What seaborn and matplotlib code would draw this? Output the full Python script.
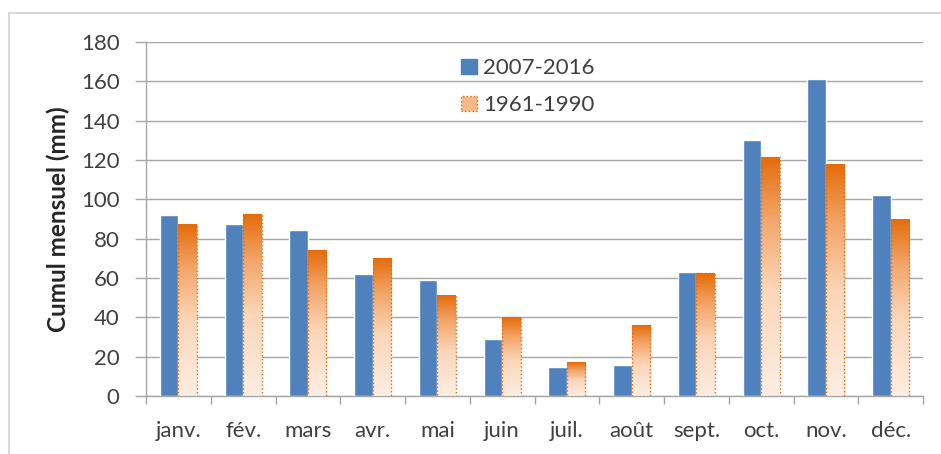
import numpy as np
import pandas as pd
import matplotlib.pyplot as plt
import seaborn as sns
from matplotlib.colors import LinearSegmentedColormap
from matplotlib.patches import Patch, Rectangle

months = ['janv.', 'fév.', 'mars', 'avr.', 'mai', 'juin',
          'juil.', 'août', 'sept.', 'oct.', 'nov.', 'déc.']
recent = [92, 87.5, 84.5, 62, 59, 29, 14.5, 16, 63, 130, 161, 102]
normal = [87, 92.5, 74, 70, 51, 40, 17, 36, 62.5, 121.5, 117.5, 89.5]
periods = ['2007-2016', '1961-1990']

df = pd.DataFrame({
    'mois': months * 2,
    'cumul': recent + normal,
    'periode': [periods[0]] * 12 + [periods[1]] * 12,
})

blue = '#4F81BD'
orange = '#E46C0A'
grey = '#A6A6A6'
txt = '#404040'

sns.set_theme(style='white')
plt.rcParams['font.family'] = ['Lato', 'DejaVu Sans']

fig = plt.figure(figsize=(9.41, 4.54), dpi=100)
fig.patches.append(Rectangle((9 / 941, -0.05), 1.0, 1 - 13 / 454 + 0.05,
                             transform=fig.transFigure, fill=False,
                             edgecolor='#D9D9D9', lw=1.5))
ax = fig.add_axes([146 / 941, 1 - 396 / 454, (923 - 146) / 941, (396 - 42) / 454])

sns.barplot(data=df, x='mois', y='cumul', hue='periode', palette=[blue, orange],
            width=0.57, saturation=1, ax=ax, legend=False, zorder=3)

# gradient fill for the 1961-1990 bars
cmap = LinearSegmentedColormap.from_list(
    'peach', [(0, '#FDEEE3'), (0.45, '#FBD6B8'), (0.75, '#F3A468'), (1, orange)])
grad = np.linspace(0, 1, 256).reshape(-1, 1)
for bar in ax.containers[1]:
    x0, w, h = bar.get_x(), bar.get_width(), bar.get_height()
    bar.set_facecolor('none')
    bar.set_edgecolor(orange)
    bar.set_linestyle(':')
    bar.set_linewidth(1)
    bar.set_zorder(4)
    ax.imshow(grad, cmap=cmap, extent=[x0, x0 + w, 0, h], origin='lower',
              aspect='auto', zorder=3, interpolation='bilinear')

ax.set_xlim(-0.5, 11.5)
ax.set_ylim(0, 180)
ax.set_yticks(range(0, 181, 20))
ax.yaxis.grid(True, color=grey, lw=1)
ax.set_axisbelow(True)
for s in ['top', 'right']:
    ax.spines[s].set_visible(False)
for s in ['left', 'bottom']:
    ax.spines[s].set_color(grey)
    ax.spines[s].set_linewidth(1)

ax.set_xticks(np.arange(-0.5, 12, 1), minor=True)
ax.tick_params(axis='x', which='major', length=0, pad=18, labelsize=16, labelcolor=txt)
ax.tick_params(axis='x', which='minor', length=6, color=grey, width=1, direction='out', bottom=True)
ax.tick_params(axis='y', length=8, color=grey, width=1, direction='out', left=True,
               pad=11, labelsize=16, labelcolor=txt)

ax.set_xlabel('')
ax.set_ylabel('Cumul mensuel (mm)', fontsize=17.5, fontweight='bold', color='#262626')
ax.yaxis.set_label_coords(-0.098, 0.5)

handles = [Patch(facecolor=blue, edgecolor=blue),
           Patch(facecolor='#F6B98A', edgecolor=orange, linestyle=':')]
ax.legend(handles, periods, loc='upper left', bbox_to_anchor=(0.38, 1.01),
          frameon=False, fontsize=16, labelcolor=txt, handlelength=0.7,
          handleheight=0.7, handletextpad=0.3, labelspacing=0.75)

fig.savefig('out.png', dpi=100)
